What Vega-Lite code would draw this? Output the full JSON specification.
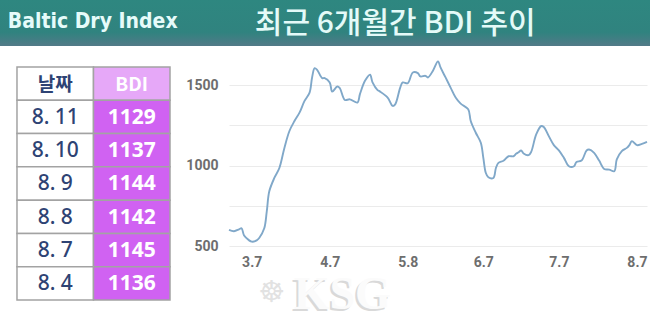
{
  "$schema": "https://vega.github.io/schema/vega-lite/v6.json",
  "padding": 0,
  "background": "white",
  "bounds": "flush",
  "spacing": 7,
  "config": {"view": {"stroke": null}},
  "vconcat": [
    {
      "width": 650,
      "height": 46,
      "layer": [
        {
          "data": {"values": [{"k": 1}]},
          "mark": {
            "type": "rect",
            "fill": {"gradient": "linear", "x1": 0, "y1": 0, "x2": 0, "y2": 1,
              "stops": [{"offset": 0, "color": "#2e8780"}, {"offset": 0.7, "color": "#30837f"}, {"offset": 1, "color": "#527a88"}]}
          },
          "encoding": {
            "x": {"datum": 0, "type": "quantitative", "scale": {"domain": [0, 1], "nice": false}, "axis": null},
            "x2": {"datum": 1},
            "y": {"datum": 0, "type": "quantitative", "scale": {"domain": [0, 1], "nice": false}, "axis": null},
            "y2": {"datum": 1}
          }
        },
        {
          "data": {"values": [{"t": "Baltic Dry Index"}]},
          "mark": {"type": "text", "align": "left", "baseline": "middle", "font": "Liberation Sans Narrow, DejaVu Sans Condensed, sans-serif", "fontSize": 21, "fontWeight": "bold", "color": "#e6fbfa"},
          "encoding": {
            "x": {"datum": 0.012, "type": "quantitative"},
            "y": {"datum": 0.53, "type": "quantitative"},
            "text": {"field": "t"}
          }
        },
        {
          "data": {"values": [{"t": "최근 6개월간 BDI 추이"}]},
          "mark": {"type": "text", "align": "center", "baseline": "middle", "font": "Noto Sans CJK KR", "fontSize": 30, "fontWeight": 500, "color": "#e4faf8"},
          "encoding": {
            "x": {"datum": 0.608, "type": "quantitative"},
            "y": {"datum": 0.47, "type": "quantitative"},
            "text": {"field": "t"}
          }
        }
      ]
    },
    {
      "bounds": "flush",
      "spacing": 59,
      "hconcat": [
        {
          "width": 170,
          "height": 247,
          "layer": [
            {
              "data": {"values": [{"col": "date", "label": "날짜"}, {"col": "BDI", "label": "BDI"}]},
              "mark": {"type": "rect", "stroke": "#a3a3a3", "strokeWidth": 1.5},
              "encoding": {
                "x": {"field": "col", "type": "nominal", "scale": {"domain": ["date", "BDI"], "paddingInner": 0, "paddingOuter": 0.111, "align": 1}, "axis": null},
                "y": {"datum": "head", "type": "nominal", "scale": {"domain": ["head", "8. 11", "8. 10", "8. 9", "8. 8", "8. 7", "8. 4"], "paddingInner": 0, "paddingOuter": 0.21, "align": 1}, "axis": null},
                "fill": {"condition": {"test": "datum.col === 'BDI'", "value": "#e6a8f8"}, "value": "white"}
              }
            },
            {
              "data": {"values": [
                {"date": "8. 11", "BDI": "1129"},
                {"date": "8. 10", "BDI": "1137"},
                {"date": "8. 9", "BDI": "1144"},
                {"date": "8. 8", "BDI": "1142"},
                {"date": "8. 7", "BDI": "1145"},
                {"date": "8. 4", "BDI": "1136"}
              ]},
              "transform": [{"fold": ["date", "BDI"], "as": ["col", "val"]}],
              "mark": {"type": "rect", "stroke": "#a3a3a3", "strokeWidth": 1.5},
              "encoding": {
                "x": {"field": "col", "type": "nominal"},
                "y": {"field": "date", "type": "nominal"},
                "fill": {"condition": {"test": "datum.col === 'BDI'", "value": "#d062f2"}, "value": "white"}
              }
            },
            {
              "data": {"values": [{"col": "date", "label": "날짜"}, {"col": "BDI", "label": "BDI"}]},
              "mark": {"type": "text", "font": "Noto Sans CJK KR", "fontSize": 19, "fontWeight": "bold", "baseline": "middle", "dy": 1},
              "encoding": {
                "x": {"field": "col", "type": "nominal", "bandPosition": 0.5},
                "y": {"datum": "head", "type": "nominal", "bandPosition": 0.5},
                "text": {"field": "label"},
                "color": {"condition": {"test": "datum.col === 'BDI'", "value": "white"}, "value": "#2e4374"}
              }
            },
            {
              "data": {"values": [
                {"date": "8. 11", "BDI": "1129"},
                {"date": "8. 10", "BDI": "1137"},
                {"date": "8. 9", "BDI": "1144"},
                {"date": "8. 8", "BDI": "1142"},
                {"date": "8. 7", "BDI": "1145"},
                {"date": "8. 4", "BDI": "1136"}
              ]},
              "mark": {"type": "text", "font": "Noto Sans", "fontSize": 21, "fontWeight": 500, "baseline": "middle", "color": "#2e4374", "dy": 1},
              "encoding": {
                "x": {"datum": "date", "type": "nominal", "bandPosition": 0.5},
                "y": {"field": "date", "type": "nominal", "bandPosition": 0.5},
                "text": {"field": "date"}
              }
            },
            {
              "data": {"values": [
                {"date": "8. 11", "BDI": "1129"},
                {"date": "8. 10", "BDI": "1137"},
                {"date": "8. 9", "BDI": "1144"},
                {"date": "8. 8", "BDI": "1142"},
                {"date": "8. 7", "BDI": "1145"},
                {"date": "8. 4", "BDI": "1136"}
              ]},
              "mark": {"type": "text", "font": "Noto Sans", "fontSize": 21, "fontWeight": "bold", "baseline": "middle", "color": "white", "dy": 1},
              "encoding": {
                "x": {"datum": "BDI", "type": "nominal", "bandPosition": 0.5},
                "y": {"field": "date", "type": "nominal", "bandPosition": 0.5},
                "text": {"field": "BDI"}
              }
            }
          ]
        },
        {
          "width": 418,
          "height": 193,
          "layer": [
            {
              "data": {"values": [
                {"date": "2023-02-26", "bdi": 600},
                {"date": "2023-02-28", "bdi": 592},
                {"date": "2023-03-02", "bdi": 604},
                {"date": "2023-03-03", "bdi": 610},
                {"date": "2023-03-04", "bdi": 565},
                {"date": "2023-03-06", "bdi": 535},
                {"date": "2023-03-07", "bdi": 527},
                {"date": "2023-03-09", "bdi": 535},
                {"date": "2023-03-10", "bdi": 550},
                {"date": "2023-03-12", "bdi": 610},
                {"date": "2023-03-13", "bdi": 715},
                {"date": "2023-03-14", "bdi": 840},
                {"date": "2023-03-16", "bdi": 923},
                {"date": "2023-03-18", "bdi": 985},
                {"date": "2023-03-20", "bdi": 1110},
                {"date": "2023-03-22", "bdi": 1215},
                {"date": "2023-03-24", "bdi": 1277},
                {"date": "2023-03-26", "bdi": 1329},
                {"date": "2023-03-28", "bdi": 1402},
                {"date": "2023-03-30", "bdi": 1454},
                {"date": "2023-03-31", "bdi": 1548},
                {"date": "2023-04-01", "bdi": 1606},
                {"date": "2023-04-02", "bdi": 1595},
                {"date": "2023-04-04", "bdi": 1544},
                {"date": "2023-04-05", "bdi": 1544},
                {"date": "2023-04-07", "bdi": 1517},
                {"date": "2023-04-08", "bdi": 1460},
                {"date": "2023-04-10", "bdi": 1492},
                {"date": "2023-04-11", "bdi": 1482},
                {"date": "2023-04-13", "bdi": 1408},
                {"date": "2023-04-15", "bdi": 1412},
                {"date": "2023-04-18", "bdi": 1392},
                {"date": "2023-04-19", "bdi": 1444},
                {"date": "2023-04-21", "bdi": 1527},
                {"date": "2023-04-23", "bdi": 1565},
                {"date": "2023-04-24", "bdi": 1517},
                {"date": "2023-04-26", "bdi": 1469},
                {"date": "2023-04-27", "bdi": 1460},
                {"date": "2023-04-30", "bdi": 1423},
                {"date": "2023-05-02", "bdi": 1371},
                {"date": "2023-05-03", "bdi": 1381},
                {"date": "2023-05-05", "bdi": 1485},
                {"date": "2023-05-06", "bdi": 1517},
                {"date": "2023-05-08", "bdi": 1512},
                {"date": "2023-05-10", "bdi": 1579},
                {"date": "2023-05-12", "bdi": 1575},
                {"date": "2023-05-13", "bdi": 1554},
                {"date": "2023-05-15", "bdi": 1558},
                {"date": "2023-05-16", "bdi": 1548},
                {"date": "2023-05-18", "bdi": 1590},
                {"date": "2023-05-20", "bdi": 1648},
                {"date": "2023-05-21", "bdi": 1610},
                {"date": "2023-05-23", "bdi": 1548},
                {"date": "2023-05-25", "bdi": 1485},
                {"date": "2023-05-27", "bdi": 1423},
                {"date": "2023-05-29", "bdi": 1385},
                {"date": "2023-06-01", "bdi": 1350},
                {"date": "2023-06-02", "bdi": 1277},
                {"date": "2023-06-04", "bdi": 1204},
                {"date": "2023-06-06", "bdi": 1142},
                {"date": "2023-06-07", "bdi": 1048},
                {"date": "2023-06-08", "bdi": 954},
                {"date": "2023-06-09", "bdi": 927},
                {"date": "2023-06-11", "bdi": 923},
                {"date": "2023-06-12", "bdi": 985},
                {"date": "2023-06-13", "bdi": 1017},
                {"date": "2023-06-15", "bdi": 1030},
                {"date": "2023-06-17", "bdi": 1058},
                {"date": "2023-06-19", "bdi": 1058},
                {"date": "2023-06-20", "bdi": 1073},
                {"date": "2023-06-21", "bdi": 1083},
                {"date": "2023-06-22", "bdi": 1094},
                {"date": "2023-06-23", "bdi": 1075},
                {"date": "2023-06-25", "bdi": 1065},
                {"date": "2023-06-26", "bdi": 1085},
                {"date": "2023-06-28", "bdi": 1194},
                {"date": "2023-06-30", "bdi": 1246},
                {"date": "2023-07-01", "bdi": 1240},
                {"date": "2023-07-03", "bdi": 1183},
                {"date": "2023-07-05", "bdi": 1127},
                {"date": "2023-07-07", "bdi": 1094},
                {"date": "2023-07-09", "bdi": 1048},
                {"date": "2023-07-11", "bdi": 996},
                {"date": "2023-07-13", "bdi": 996},
                {"date": "2023-07-14", "bdi": 1023},
                {"date": "2023-07-16", "bdi": 1031},
                {"date": "2023-07-18", "bdi": 1094},
                {"date": "2023-07-19", "bdi": 1100},
                {"date": "2023-07-21", "bdi": 1079},
                {"date": "2023-07-23", "bdi": 1031},
                {"date": "2023-07-25", "bdi": 979},
                {"date": "2023-07-27", "bdi": 975},
                {"date": "2023-07-29", "bdi": 965},
                {"date": "2023-07-30", "bdi": 1038},
                {"date": "2023-08-01", "bdi": 1090},
                {"date": "2023-08-03", "bdi": 1110},
                {"date": "2023-08-04", "bdi": 1127},
                {"date": "2023-08-05", "bdi": 1152},
                {"date": "2023-08-07", "bdi": 1127},
                {"date": "2023-08-09", "bdi": 1135},
                {"date": "2023-08-11", "bdi": 1148}
              ]},
              "mark": {"type": "line", "interpolate": "catmull-rom", "color": "#80a8c9", "strokeWidth": 1.9},
              "encoding": {
                "x": {
                  "field": "date", "type": "temporal",
                  "scale": {"type": "utc", "nice": false,
                    "domain": [{"year": 2023, "month": 2, "date": 26, "utc": true}, {"year": 2023, "month": 8, "date": 11, "utc": true}]},
                  "axis": {
                    "values": [
                      {"year": 2023, "month": 3, "date": 7, "utc": true},
                      {"year": 2023, "month": 4, "date": 7, "utc": true},
                      {"year": 2023, "month": 5, "date": 8, "utc": true},
                      {"year": 2023, "month": 6, "date": 7, "utc": true},
                      {"year": 2023, "month": 7, "date": 7, "utc": true},
                      {"year": 2023, "month": 8, "date": 7, "utc": true}
                    ],
                    "format": "%-m.%-d",
                    "title": null, "grid": false, "ticks": false, "domain": false,
                    "labelFont": "Roboto", "labelFontSize": 14, "labelFontWeight": "bold", "labelColor": "#6e6e6e",
                    "labelPadding": 9
                  }
                },
                "y": {
                  "field": "bdi", "type": "quantitative",
                  "scale": {"domain": [500, 1700], "nice": false, "zero": false},
                  "axis": {
                    "values": [500, 750, 1000, 1250, 1500],
                    "labelExpr": "datum.value % 500 === 0 ? datum.label : ''",
                    "format": "d",
                    "title": null, "grid": true, "gridColor": "#ebebeb", "gridWidth": 1.2,
                    "ticks": false, "domain": false,
                    "labelFont": "Roboto", "labelFontSize": 14, "labelFontWeight": "bold", "labelColor": "#6e6e6e",
                    "labelPadding": 11
                  }
                }
              }
            },
            {
              "data": {"values": [{"t": "KSG"}]},
              "mark": {"type": "text", "font": "Liberation Serif", "fontSize": 46, "fontWeight": "bold", "color": "#d9d9d9", "baseline": "middle", "dx": -2, "dy": 2},
              "encoding": {
                "x": {"datum": {"year": 2023, "month": 4, "date": 12, "utc": true}, "type": "temporal"},
                "y": {"datum": 196, "type": "quantitative"},
                "text": {"field": "t"}
              }
            },
            {
              "data": {"values": [{"t": "KSG"}]},
              "mark": {"type": "text", "font": "Liberation Serif", "fontSize": 46, "fontWeight": "bold", "color": "#fbfbfb", "baseline": "middle"},
              "encoding": {
                "x": {"datum": {"year": 2023, "month": 4, "date": 12, "utc": true}, "type": "temporal"},
                "y": {"datum": 196, "type": "quantitative"},
                "text": {"field": "t"}
              }
            },
            {
              "data": {"values": [{"t": "☸"}]},
              "mark": {"type": "text", "font": "DejaVu Sans", "fontSize": 30, "color": "#e2e2e2", "baseline": "middle"},
              "encoding": {
                "x": {"datum": {"year": 2023, "month": 3, "date": 15, "utc": true}, "type": "temporal"},
                "y": {"datum": 210, "type": "quantitative"},
                "text": {"field": "t"}
              }
            }
          ]
        }
      ]
    }
  ]
}
